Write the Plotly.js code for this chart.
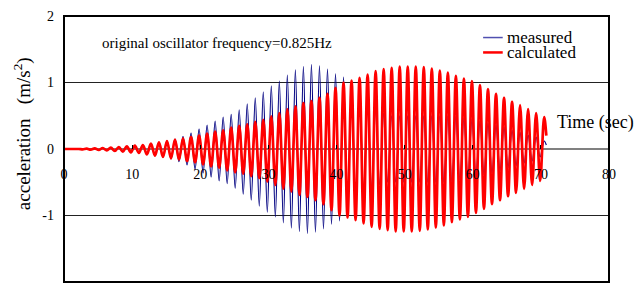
<!DOCTYPE html>
<html>
<head>
<meta charset="utf-8">
<script src="https://cdn.plot.ly/plotly-3.0.1.min.js"></script>
<style>html,body{margin:0;padding:0;background:#fff;}#chart{width:634px;height:283px;}</style>
</head>
<body>
<div id="chart"></div>
<script>
// Sampling of oscillation cycles (time of each positive peak = startTime + k*period)
const startTime = 0.98;     // s
const period = 1.178;       // s (approx. 0.85 Hz)
const endTime = 70.8;       // s

// Peak amplitude of each cycle (m/s^2)
const measuredAmp = [
  0.003, 0.005, 0.005, 0.01, 0.015, 0.02, 0.03, 0.04, 0.05, 0.06,
  0.08, 0.10, 0.12, 0.15, 0.19, 0.24, 0.30, 0.36, 0.42, 0.48,
  0.52, 0.59, 0.68, 0.77, 0.86, 0.95, 1.02, 1.11, 1.19, 1.24,
  1.27, 1.25, 1.20, 1.13, 1.08, 0.97, 0.82, 0.68, 0.60, 0.54,
  0.50, 0.50, 0.50, 0.50, 0.50, 0.50, 0.50, 0.50, 0.49, 0.47,
  0.45, 0.42, 0.39, 0.36, 0.33, 0.28, 0.25, 0.21, 0.18, 0.12
];
const calculatedAmp = [
  0.0, 0.0, 0.005, 0.01, 0.015, 0.02, 0.03, 0.04, 0.05, 0.06,
  0.08, 0.10, 0.12, 0.14, 0.16, 0.18, 0.20, 0.23, 0.26, 0.28,
  0.32, 0.35, 0.37, 0.41, 0.44, 0.49, 0.54, 0.60, 0.64, 0.69,
  0.72, 0.77, 0.83, 0.92, 1.00, 1.03, 1.07, 1.12, 1.17, 1.20,
  1.22, 1.24, 1.24, 1.24, 1.23, 1.21, 1.18, 1.15, 1.10, 1.06,
  1.02, 0.96, 0.90, 0.83, 0.77, 0.71, 0.66, 0.60, 0.54, 0.48
];
const measuredEnd = 0.06;
const calculatedEnd = 0.2;

const seriesNames = ['measured', 'calculated'];
const xTicks = [0, 10, 20, 30, 40, 50, 60, 70, 80];
const yTicks = [-2, -1, 0, 1, 2];

function buildWave(amps, endVal) {
  const x = [0], y = [0];
  amps.forEach(function (a, k) {
    const tp = startTime + k * period;
    x.push(tp - period / 2); y.push(-a);
    x.push(tp); y.push(a);
  });
  x.push(endTime); y.push(endVal);
  return {x: x, y: y};
}

const m = buildWave(measuredAmp, measuredEnd);
const c = buildWave(calculatedAmp, calculatedEnd);

const FONT = 'Liberation Serif, serif';

const traces = [
  {x: m.x, y: m.y, name: seriesNames[0], type: 'scatter', mode: 'lines',
   line: {color: '#000080', width: 1.2, shape: 'spline', smoothing: 1}, showlegend: false},
  {x: c.x, y: c.y, name: seriesNames[1], type: 'scatter', mode: 'lines',
   line: {color: '#ff0000', width: 2.7, shape: 'spline', smoothing: 1}, showlegend: false}
];

const layout = {
  width: 634, height: 283,
  margin: {l: 64, r: 25, t: 16, b: 1, pad: 0},
  paper_bgcolor: '#ffffff', plot_bgcolor: '#ffffff',
  font: {family: FONT, color: '#000', size: 14},
  showlegend: false,
  xaxis: {
    range: [0, 80], tickvals: xTicks, ticktext: xTicks.map(String),
    anchor: 'free', position: 0.5,
    showline: false, showgrid: false, zeroline: false,
    ticks: 'inside', ticklen: 4, tickwidth: 1, tickcolor: '#000',
    ticklabelstandoff: 15,
    tickfont: {family: FONT, size: 14, color: '#000'},
    layer: 'above traces', automargin: false, fixedrange: true
  },
  yaxis: {
    range: [-2, 2], tickvals: yTicks, ticktext: yTicks.map(String),
    showline: false, showgrid: true, gridcolor: '#222', gridwidth: 1,
    zeroline: true, zerolinecolor: '#808080', zerolinewidth: 2.5,
    ticks: '', ticklabelstandoff: 9,
    tickfont: {family: FONT, size: 14, color: '#000'},
    automargin: false, fixedrange: true
  },
  shapes: [
    {type: 'rect', xref: 'paper', yref: 'paper', x0: 0, x1: 1, y0: 0, y1: 1,
     line: {color: '#000', width: 2}, layer: 'above'},
    // legend swatches
    {type: 'line', xref: 'paper', yref: 'paper', x0: 0.769, x1: 0.805, y0: 0.919, y1: 0.919,
     line: {color: '#5050b0', width: 1.5}},
    {type: 'line', xref: 'paper', yref: 'paper', x0: 0.769, x1: 0.805, y0: 0.863, y1: 0.863,
     line: {color: '#ff0000', width: 2.5}}
  ],
  annotations: [
    {text: 'acceleration&nbsp;&nbsp;&nbsp;(m/s<sup>2</sup>)', xref: 'paper', yref: 'paper',
     x: -0.077, y: 0.556, xanchor: 'center', yanchor: 'middle', textangle: -90, showarrow: false,
     font: {family: FONT, size: 19, color: '#000'}},
    {text: 'original oscillator frequency=0.825Hz', xref: 'paper', yref: 'paper',
     x: 0.066, y: 0.9, xanchor: 'left', yanchor: 'middle', showarrow: false,
     font: {family: FONT, size: 15, color: '#000'}},
    {text: seriesNames[0], xref: 'paper', yref: 'paper', x: 0.81, y: 0.922,
     xanchor: 'left', yanchor: 'middle', showarrow: false, height: 14, valign: 'middle',
     font: {family: FONT, size: 17, color: '#000'}},
    {text: seriesNames[1], xref: 'paper', yref: 'paper', x: 0.81, y: 0.863,
     xanchor: 'left', yanchor: 'middle', showarrow: false, height: 14, valign: 'middle',
     font: {family: FONT, size: 17, color: '#000'}},
    {text: 'Time (sec)', xref: 'paper', yref: 'paper', x: 0.9, y: 0.598,
     xanchor: 'left', yanchor: 'middle', showarrow: false,
     font: {family: FONT, size: 18, color: '#000'}}
  ]
};

Plotly.newPlot('chart', traces, layout, {staticPlot: true, displayModeBar: false});
</script>
</body>
</html>
